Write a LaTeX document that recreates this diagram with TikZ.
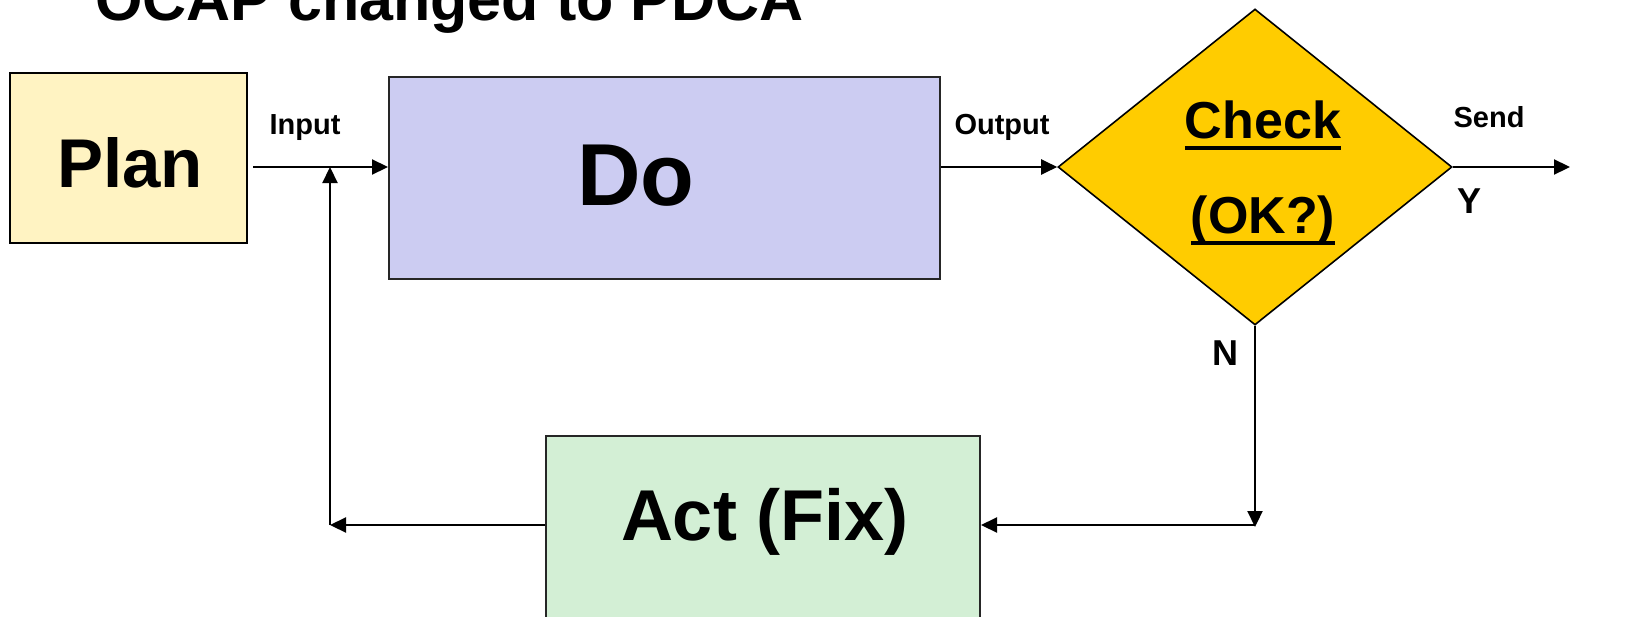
\documentclass[tikz,border=0pt]{standalone}
\usepackage{fontspec}
\setmainfont{Liberation Sans}
\usetikzlibrary{arrows.meta,shapes.geometric}
\definecolor{planfill}{HTML}{FFF3C2}
\definecolor{dofill}{HTML}{CCCCF2}
\definecolor{actfill}{HTML}{D3EFD5}
\definecolor{chkfill}{HTML}{FFCC00}
\newcommand\myul[1]{\setbox0=\hbox{#1}\rlap{\copy0}\rule[-12pt]{\wd0}{4.5pt}}
\tikzset{
  boxstyle/.style={draw=black, line width=2pt, rectangle, inner sep=0pt},
  txt/.style={font=\bfseries, inner sep=0pt, anchor=base},
  arr/.style={line width=2.2pt, -{Triangle[length=16pt,width=15pt]}},
  ln/.style={line width=2.2pt}
}
\begin{document}
\begin{tikzpicture}[x=1pt,y=-1pt]
\clip (0,0) rectangle (1631,616);
\useasboundingbox (0,0) rectangle (1631,616);
\node[txt, anchor=base west, font=\fontsize{61}{61}\selectfont\bfseries] (title) at (95,20) {OCAP changed to PDCA};
\node[boxstyle, fill=planfill, minimum width=237pt, minimum height=170pt] (plan) at (128.5,158) {};
\node[txt, font=\fontsize{69}{69}\selectfont\bfseries] (plantxt) at (130,187) {Plan};
\node[boxstyle, draw=black!85, fill=dofill, minimum width=551pt, minimum height=202pt] (do) at (664.5,178) {};
\node[txt, font=\fontsize{88}{88}\selectfont\bfseries] (dotxt) at (636,205) {Do};
\node[diamond, draw=black, line width=1.6pt, fill=chkfill, minimum width=394pt, minimum height=316pt, inner sep=0pt] (dia) at (1255,167) {};
\node[txt, font=\fontsize{52}{52}\selectfont\bfseries] (chk) at (1263,138) {\myul{Check}};
\node[txt, font=\fontsize{52}{52}\selectfont\bfseries] (ok) at (1263,233) {\myul{(OK?)}};
\node[boxstyle, draw=black!85, fill=actfill, minimum width=434pt, minimum height=250pt] (act) at (763,561) {};
\node[txt, font=\fontsize{72}{72}\selectfont\bfseries] (acttxt) at (765,540) {Act (Fix)};
\node[txt, font=\fontsize{29}{29}\selectfont\bfseries] (input) at (305,134) {Input};
\node[txt, font=\fontsize{29}{29}\selectfont\bfseries] (output) at (1002,134) {Output};
\node[txt, font=\fontsize{29}{29}\selectfont\bfseries] (send) at (1489,127) {Send};
\node[txt, font=\fontsize{36}{36}\selectfont\bfseries] (ylab) at (1469,213) {Y};
\node[txt, font=\fontsize{36}{36}\selectfont\bfseries] (nlab) at (1225,365) {N};
\coordinate (sendend) at (1570,167);
\coordinate (nend) at (1255,527);
\coordinate (fbcorner) at (330,525);
\coordinate (fbtop) at (330,167);
\draw[arr] ([xshift=5pt]plan.east |- dia.west) -- (do.west |- dia.west);
\draw[arr] (do.east |- dia.west) -- (dia.west);
\draw[arr] (dia.east) -- (sendend);
\draw[arr] (dia.south) -- (nend);
\draw[arr] (nend |- fbcorner) -- (act.east |- fbcorner);
\draw[arr] (act.west |- fbcorner) -- (fbcorner);
\draw[arr] (fbcorner) -- (fbtop);
\end{tikzpicture}
\end{document}
